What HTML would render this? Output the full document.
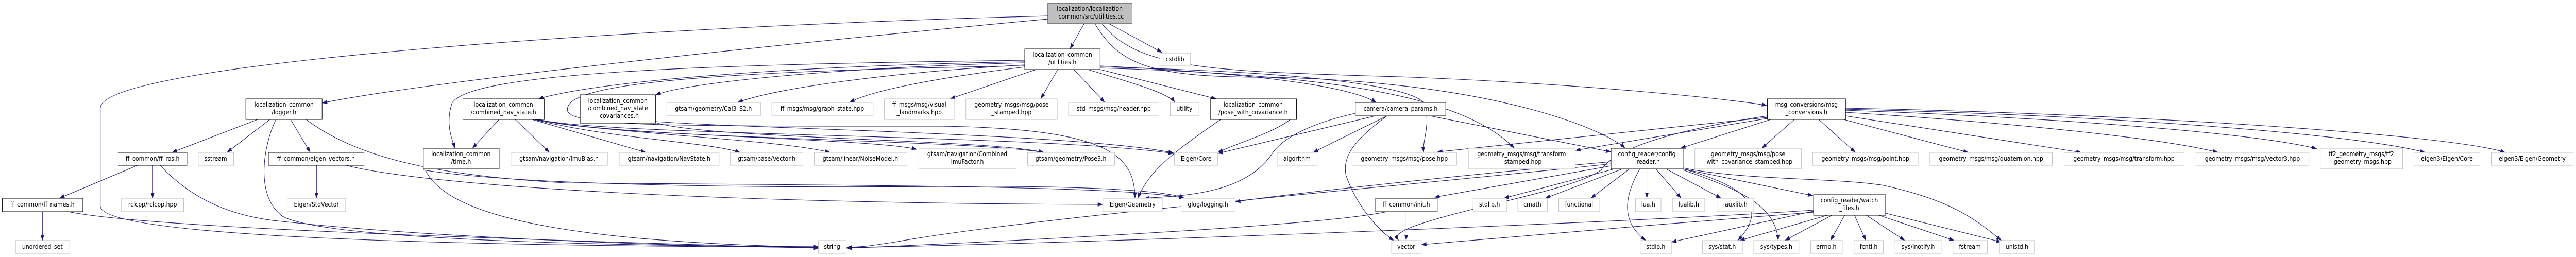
<!DOCTYPE html>
<html><head><meta charset="utf-8"><style>
html,body{margin:0;padding:0;background:#fff;width:100%;height:100%;overflow:hidden;}
svg{display:block;width:100vw;height:100vh}
text{font-family:"DejaVu Sans","Liberation Sans",sans-serif;font-size:12px;fill:#000;text-anchor:middle}
.e{fill:none;stroke:#191970;stroke-width:1.1}
.n{fill:#fff;stroke:#000;stroke-width:1}
.g{fill:#fff;stroke:#bfbfbf;stroke-width:1}
</style></head><body>
<svg viewBox="0 0 5470 499" preserveAspectRatio="none" xmlns="http://www.w3.org/2000/svg" overflow="hidden">
<defs><marker id="a" markerWidth="11" markerHeight="8" refX="11" refY="4" orient="auto" markerUnits="userSpaceOnUse"><path d="M0,0 L11,4 L0,8 z" fill="#191970"/></marker></defs>
<g class="e" marker-end="url(#a)">
<path d="M2302,46 L2272,95"/>
<path d="M2355,46 L2468,102"/>
<path d="M2225,37 C1600,90 900,160 684,200"/>
<path d="M2225,31 C1400,50 213,120 213,210 L213,400 C213,470 1200,478 1738,480"/>
<path d="M2340,46 C2420,140 2600,138 3000,150 C3400,165 3700,195 3752,205"/>
<path d="M2325,46 C2380,130 2450,150 2700,150 C3200,160 3420,260 3451,288"/>
<path d="M2176,117 C1500,125 1000,140 960,200 C945,240 960,270 966,288"/>
<path d="M2176,120 C1800,125 1300,150 1143,192"/>
<path d="M2176,122 C1800,130 1450,160 1392,185"/>
<path d="M2176,126 C1900,140 1650,170 1566,199"/>
<path d="M2176,130 C2000,150 1850,175 1804,199"/>
<path d="M2200,135 L2017,192"/>
<path d="M2246,135 L2210,192"/>
<path d="M2280,135 L2346,199"/>
<path d="M2310,135 C2400,160 2480,180 2495,199"/>
<path d="M2336,135 L2583,192"/>
<path d="M2336,128 C2600,140 2850,160 2923,199"/>
<path d="M2336,130 C2800,140 3000,170 3023,200 C3040,240 3020,270 3023,296"/>
<path d="M2336,132 C2800,145 3100,180 3216,288"/>
<path d="M2176,128 C1300,140 1200,180 1205,215 C1215,245 1400,245 2000,245 C2350,250 2410,300 2410,385"/>
<path d="M547,232 L365,296"/>
<path d="M573,232 L482,296"/>
<path d="M617,232 L659,296"/>
<path d="M586,232 C560,280 540,380 600,420 C700,470 1400,478 1738,479"/>
<path d="M650,232 C750,300 900,340 1200,355 C1800,360 2400,360 2515,385"/>
<path d="M292,321 L126,385"/>
<path d="M324,321 L324,385"/>
<path d="M340,321 C400,380 480,420 600,430 C900,460 1400,478 1738,481"/>
<path d="M672,321 L672,385"/>
<path d="M735,321 C900,360 1500,395 2342,397"/>
<path d="M90,411 L90,467"/>
<path d="M145,411 C300,440 900,460 1738,482"/>
<path d="M903,330 C950,420 1200,470 1738,480"/>
<path d="M899,330 C1100,360 1600,365 2000,362 C2300,360 2480,370 2515,385"/>
<path d="M1060,232 L1003,288"/>
<path d="M1094,232 L1167,296"/>
<path d="M1130,232 L1372,296"/>
<path d="M1135,232 C1300,270 1500,275 1572,296"/>
<path d="M1137,232 C1300,260 1650,270 1763,296"/>
<path d="M1139,232 C1300,265 1850,268 1947,290"/>
<path d="M1141,232 C1300,270 2050,270 2217,296"/>
<path d="M1143,232 C1300,265 2200,260 2492,298"/>
<path d="M1392,238 C1500,270 2100,270 2217,296"/>
<path d="M1392,236 C1600,250 2300,260 2492,297"/>
<path d="M2592,232 C2500,290 2440,330 2416,385"/>
<path d="M2740,232 C2700,260 2620,280 2586,296"/>
<path d="M2945,225 L2788,296"/>
<path d="M2945,225 C2880,270 2850,300 2858,340 C2880,400 2930,450 2960,467"/>
<path d="M3037,225 L3421,295"/>
<path d="M2920,225 L2586,298"/>
<path d="M2878,220 C2780,240 2720,270 2700,300 C2640,380 2500,380 2430,385"/>
<path d="M3753,228 L3052,295"/>
<path d="M3753,230 L3345,292"/>
<path d="M3760,232 L3568,288"/>
<path d="M3810,232 L3741,288"/>
<path d="M3862,232 L3940,296"/>
<path d="M3915,232 L4180,296"/>
<path d="M3919,225 L4420,296"/>
<path d="M3919,218 C4300,240 4600,270 4710,296"/>
<path d="M3919,214 C4400,230 4800,260 4920,289"/>
<path d="M3919,212 C4500,225 5000,260 5150,296"/>
<path d="M3919,210 C4500,220 5200,260 5320,296"/>
<path d="M3753,225 C3500,260 3420,300 3400,330 C3340,370 3120,400 3000,440 C2960,455 2965,460 2970,467"/>
<path d="M3421,322 L3046,383"/>
<path d="M3428,328 L3193,385"/>
<path d="M3445,328 L3281,385"/>
<path d="M3460,328 L3378,385"/>
<path d="M3497,328 L3497,385"/>
<path d="M3516,328 L3570,385"/>
<path d="M3538,328 L3655,385"/>
<path d="M3482,328 C3450,380 3440,430 3495,467"/>
<path d="M3574,328 L3850,380"/>
<path d="M3574,328 C3700,360 3760,400 3690,467"/>
<path d="M3574,330 C3700,370 3770,400 3776,467"/>
<path d="M3574,326 C3700,350 3900,345 4000,360 C4150,390 4200,430 4250,467"/>
<path d="M3421,318 C3000,360 2200,420 1900,470 C1850,477 1830,480 1798,480"/>
<path d="M3421,314 C3100,340 2700,380 2623,392"/>
<path d="M2986,411 L2986,467"/>
<path d="M2945,411 C2800,440 2100,470 1798,482"/>
<path d="M3880,418 L3694,467"/>
<path d="M3890,418 L3790,467"/>
<path d="M3917,418 L3887,467"/>
<path d="M3938,418 L3962,467"/>
<path d="M3963,418 L4045,467"/>
<path d="M3990,418 L4150,467"/>
<path d="M4004,414 L4250,470"/>
<path d="M3851,408 C3500,430 2400,470 1798,481"/>
<path d="M3851,412 C3600,430 3200,460 3018,475"/>
<path d="M3851,410 L3549,470"/>
</g>
<g>
<rect x="2225" y="6" width="179" height="40" fill="#bfbfbf" stroke="#404040"/>
<text x="2314" y="21">localization/localization</text><text x="2314" y="36">_common/src/utilities.cc</text>
<rect class="n" x="2176" y="95" width="160" height="40"/><text x="2256" y="110">localization_common</text><text x="2256" y="125">/utilities.h</text>
<rect class="g" x="2463" y="103" width="65" height="25"/><text x="2495" y="119">cstdlib</text>
<rect class="n" x="522" y="192" width="162" height="40"/><text x="603" y="207">localization_common</text><text x="603" y="222">/logger.h</text>
<rect class="n" x="983" y="192" width="173" height="40"/><text x="1069" y="207">localization_common</text><text x="1069" y="222">/combined_nav_state.h</text>
<rect class="n" x="1232" y="184" width="160" height="55"/><text x="1312" y="200">localization_common</text><text x="1312" y="214">/combined_nav_state</text><text x="1312" y="229">_covariances.h</text>
<rect class="g" x="1416" y="199" width="199" height="26"/><text x="1515" y="215">gtsam/geometry/Cal3_S2.h</text>
<rect class="g" x="1639" y="199" width="215" height="26"/><text x="1746" y="215">ff_msgs/msg/graph_state.hpp</text>
<rect class="g" x="1878" y="192" width="148" height="40"/><text x="1952" y="207">ff_msgs/msg/visual</text><text x="1952" y="222">_landmarks.hpp</text>
<rect class="g" x="2051" y="192" width="194" height="40"/><text x="2148" y="207">geometry_msgs/msg/pose</text><text x="2148" y="222">_stamped.hpp</text>
<rect class="g" x="2269" y="199" width="192" height="26"/><text x="2365" y="215">std_msgs/msg/header.hpp</text>
<rect class="g" x="2485" y="199" width="61" height="26"/><text x="2515" y="215">utility</text>
<rect class="n" x="2570" y="192" width="183" height="40" stroke="#404040"/><text x="2661" y="207">localization_common</text><text x="2661" y="222">/pose_with_covariance.h</text>
<rect class="n" x="2878" y="199" width="192" height="26"/><text x="2974" y="215">camera/camera_params.h</text>
<rect class="n" x="3753" y="192" width="166" height="40" stroke="#404040"/><text x="3836" y="207">msg_conversions/msg</text><text x="3836" y="222">_conversions.h</text>
<rect class="n" x="251" y="296" width="146" height="25"/><text x="324" y="312">ff_common/ff_ros.h</text>
<rect class="g" x="421" y="296" width="75" height="25"/><text x="458" y="312">sstream</text>
<rect class="n" x="570" y="296" width="203" height="25"/><text x="671" y="312">ff_common/eigen_vectors.h</text>
<rect class="n" x="899" y="288" width="161" height="40"/><text x="979" y="303">localization_common</text><text x="979" y="318">/time.h</text>
<rect class="g" x="1085" y="296" width="205" height="25"/><text x="1187" y="312">gtsam/navigation/ImuBias.h</text>
<rect class="g" x="1315" y="296" width="212" height="25"/><text x="1421" y="312">gtsam/navigation/NavState.h</text>
<rect class="g" x="1551" y="296" width="154" height="25"/><text x="1628" y="312">gtsam/base/Vector.h</text>
<rect class="g" x="1729" y="296" width="197" height="25"/><text x="1827" y="312">gtsam/linear/NoiseModel.h</text>
<rect class="g" x="1951" y="288" width="207" height="40"/><text x="2054" y="303">gtsam/navigation/Combined</text><text x="2054" y="318">ImuFactor.h</text>
<rect class="g" x="2182" y="296" width="185" height="25"/><text x="2274" y="312">gtsam/geometry/Pose3.h</text>
<rect class="g" x="2494" y="296" width="92" height="25"/><text x="2540" y="312">Eigen/Core</text>
<rect class="g" x="2712" y="296" width="85" height="25"/><text x="2754" y="312">algorithm</text>
<rect class="g" x="2871" y="296" width="222" height="25"/><text x="2982" y="312">geometry_msgs/msg/pose.hpp</text>
<rect class="g" x="3118" y="288" width="227" height="40"/><text x="3231" y="303">geometry_msgs/msg/transform</text><text x="3231" y="318">_stamped.hpp</text>
<rect class="n" x="3421" y="288" width="153" height="40"/><text x="3497" y="303">config_reader/config</text><text x="3497" y="318">_reader.h</text>
<rect class="g" x="3599" y="288" width="226" height="40"/><text x="3712" y="303">geometry_msgs/msg/pose</text><text x="3712" y="318">_with_covariance_stamped.hpp</text>
<rect class="g" x="3849" y="296" width="224" height="25"/><text x="3961" y="312">geometry_msgs/msg/point.hpp</text>
<rect class="g" x="4098" y="296" width="260" height="25"/><text x="4228" y="312">geometry_msgs/msg/quaternion.hpp</text>
<rect class="g" x="4383" y="296" width="255" height="25"/><text x="4510" y="312">geometry_msgs/msg/transform.hpp</text>
<rect class="g" x="4663" y="296" width="240" height="25"/><text x="4783" y="312">geometry_msgs/msg/vector3.hpp</text>
<rect class="g" x="4927" y="288" width="175" height="40"/><text x="5014" y="303">tf2_geometry_msgs/tf2</text><text x="5014" y="318">_geometry_msgs.hpp</text>
<rect class="g" x="5126" y="296" width="140" height="25"/><text x="5196" y="312">eigen3/Eigen/Core</text>
<rect class="g" x="5290" y="296" width="174" height="25"/><text x="5377" y="312">eigen3/Eigen/Geometry</text>
<rect class="n" x="5" y="385" width="171" height="26"/><text x="90" y="401">ff_common/ff_names.h</text>
<rect class="g" x="258" y="385" width="132" height="26"/><text x="324" y="401">rclcpp/rclcpp.hpp</text>
<rect class="g" x="610" y="385" width="124" height="26"/><text x="672" y="401">Eigen/StdVector</text>
<rect class="g" x="2342" y="385" width="126" height="26"/><text x="2405" y="401">Eigen/Geometry</text>
<rect class="g" x="2508" y="385" width="115" height="26"/><text x="2565" y="401">glog/logging.h</text>
<rect class="n" x="2921" y="385" width="131" height="26"/><text x="2986" y="401">ff_common/init.h</text>
<rect class="g" x="3128" y="385" width="71" height="26"/><text x="3163" y="401">stdlib.h</text>
<rect class="g" x="3223" y="385" width="63" height="26"/><text x="3254" y="401">cmath</text>
<rect class="g" x="3310" y="385" width="87" height="26"/><text x="3353" y="401">functional</text>
<rect class="g" x="3473" y="385" width="54" height="26"/><text x="3500" y="401">lua.h</text>
<rect class="g" x="3552" y="385" width="68" height="26"/><text x="3586" y="401">lualib.h</text>
<rect class="g" x="3646" y="385" width="78" height="26"/><text x="3685" y="401">lauxlib.h</text>
<rect class="n" x="3851" y="378" width="153" height="40" stroke="#404040"/><text x="3927" y="393">config_reader/watch</text><text x="3927" y="408">_files.h</text>
<rect class="g" x="33" y="467" width="115" height="25"/><text x="90" y="483">unordered_set</text>
<rect class="g" x="1738" y="467" width="59" height="25"/><text x="1767" y="483">string</text>
<rect class="g" x="2955" y="467" width="63" height="25"/><text x="2986" y="483">vector</text>
<rect class="g" x="3483" y="467" width="66" height="25"/><text x="3516" y="483">stdio.h</text>
<rect class="g" x="3615" y="467" width="85" height="25"/><text x="3657" y="483">sys/stat.h</text>
<rect class="g" x="3724" y="467" width="96" height="25"/><text x="3772" y="483">sys/types.h</text>
<rect class="g" x="3845" y="467" width="67" height="25"/><text x="3878" y="483">errno.h</text>
<rect class="g" x="3937" y="467" width="62" height="25"/><text x="3968" y="483">fcntl.h</text>
<rect class="g" x="4024" y="467" width="98" height="25"/><text x="4073" y="483">sys/inotify.h</text>
<rect class="g" x="4147" y="467" width="73" height="25"/><text x="4183" y="483">fstream</text>
<rect class="g" x="4246" y="467" width="74" height="25"/><text x="4283" y="483">unistd.h</text>
</g>
</svg>
</body></html>
